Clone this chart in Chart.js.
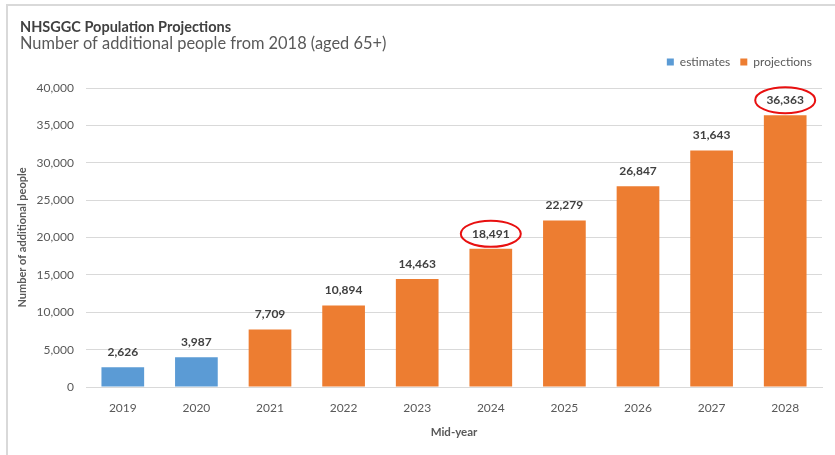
<!DOCTYPE html>
<html>
<head>
<meta charset="utf-8">
<script src="https://cdn.jsdelivr.net/npm/chart.js@4"></script>
<style>
  html, body { margin: 0; padding: 0; background: #fff; }
  #wrap { position: relative; width: 835px; height: 455px; }
  #frame { position: absolute; left: 6px; top: 4px; right: 0; bottom: 0;
           border-top: 2px solid #d9d9d9; border-left: 2px solid #d9d9d9; pointer-events: none; }
  canvas { position: absolute; left: 0; top: 0; }
</style>
</head>
<body>
<div id="wrap">
  <canvas id="chart" width="835" height="455"></canvas>
  <div id="frame"></div>
</div>
<script>
// données
const years = ['2019', '2020', '2021', '2022', '2023', '2024', '2025', '2026', '2027', '2028'];
const estimates = [2626, 3987, null, null, null, null, null, null, null, null];
const projections = [null, null, 7709, 10894, 14463, 18491, 22279, 26847, 31643, 36363];
const circled = ['2024', '2028'];
const yTicks = [0, 5000, 10000, 15000, 20000, 25000, 30000, 35000, 40000];

const FONT = 'Lato, "Open Sans", sans-serif';
const TEXT = '#595959';

// étiquettes de valeur au-dessus des barres + ellipses rouges
const valueLabels = {
  id: 'valueLabels',
  afterDatasetsDraw(chart) {
    const ctx = chart.ctx;
    ctx.save();
    ctx.font = 'bold 12px ' + FONT;
    ctx.fillStyle = '#404040';
    ctx.textAlign = 'center';
    ctx.textBaseline = 'middle';
    chart.data.datasets.forEach(function (ds, i) {
      const meta = chart.getDatasetMeta(i);
      meta.data.forEach(function (bar, j) {
        const v = ds.data[j];
        if (v === null || v === undefined) return;
        const y = bar.y - 15;
        ctx.fillText(v.toLocaleString('en-GB'), bar.x, y);
        if (circled.indexOf(chart.data.labels[j]) !== -1) {
          ctx.beginPath();
          ctx.strokeStyle = '#e81010';
          ctx.lineWidth = 2;
          ctx.ellipse(bar.x, y, 30, 13, 0, 0, Math.PI * 2);
          ctx.stroke();
        }
      });
    });
    ctx.restore();
  }
};

// espace supplémentaire sous la légende
const legendGap = {
  id: 'legendGap',
  beforeLayout(chart) {
    const lg = chart.legend;
    if (!lg || lg._gapPatched) return;
    const fit = lg.fit;
    lg.fit = function () { fit.call(this); this.height += 10; };
    lg._gapPatched = true;
  }
};

new Chart(document.getElementById('chart'), {
  type: 'bar',
  data: {
    labels: years,
    datasets: [
      { label: 'estimates', data: estimates, backgroundColor: '#5b9bd5' },
      { label: 'projections', data: projections, backgroundColor: '#ed7d31' }
    ]
  },
  options: {
    responsive: false,
    animation: false,
    barPercentage: 0.58,
    categoryPercentage: 1,
    layout: { padding: { left: 20, right: 13, top: 19, bottom: 12 } },
    plugins: {
      title: {
        display: true, text: 'NHSGGC Population Projections', align: 'start',
        color: '#404040', font: { family: FONT, size: 14.5, weight: 'bold', lineHeight: 1.2 },
        padding: { top: 0, bottom: -1 }
      },
      subtitle: {
        display: true, text: 'Number of additional people from 2018 (aged 65+)', align: 'start',
        color: TEXT, font: { family: FONT, size: 16.4, lineHeight: 1.0 },
        padding: { top: 0, bottom: -5.8 }
      },
      legend: {
        position: 'top', align: 'end',
        labels: { boxWidth: 7, boxHeight: 7, padding: 10, color: TEXT, font: { family: FONT, size: 12 } }
      },
      tooltip: { enabled: false }
    },
    scales: {
      x: {
        stacked: true,
        afterFit: function (scale) { scale.height = 56; },
        grid: { display: false, drawTicks: false },
        border: { display: true, color: '#d9d9d9' },
        ticks: { color: TEXT, font: { family: FONT, size: 12 }, padding: 14 },
        title: { display: true, text: 'Mid-year', color: TEXT, font: { family: FONT, size: 11.5, weight: 'bold' }, padding: { top: 10, bottom: 4 } }
      },
      y: {
        stacked: true,
        min: 0, max: 40000,
        afterBuildTicks: function (scale) { scale.ticks = yTicks.map(function (v) { return { value: v }; }); },
        afterFit: function (scale) { scale.width = 66; },
        grid: { color: '#d9d9d9', drawTicks: false },
        border: { display: false },
        ticks: {
          color: TEXT, font: { family: FONT, size: 12 }, padding: 12,
          callback: function (v) { return Number(v).toLocaleString('en-GB'); }
        },
        title: { display: true, text: 'Number of additional people', color: TEXT, font: { family: FONT, size: 11, weight: 'bold' }, padding: { top: -4, bottom: 0 } }
      }
    }
  },
  plugins: [valueLabels, legendGap]
});
</script>
</body>
</html>
